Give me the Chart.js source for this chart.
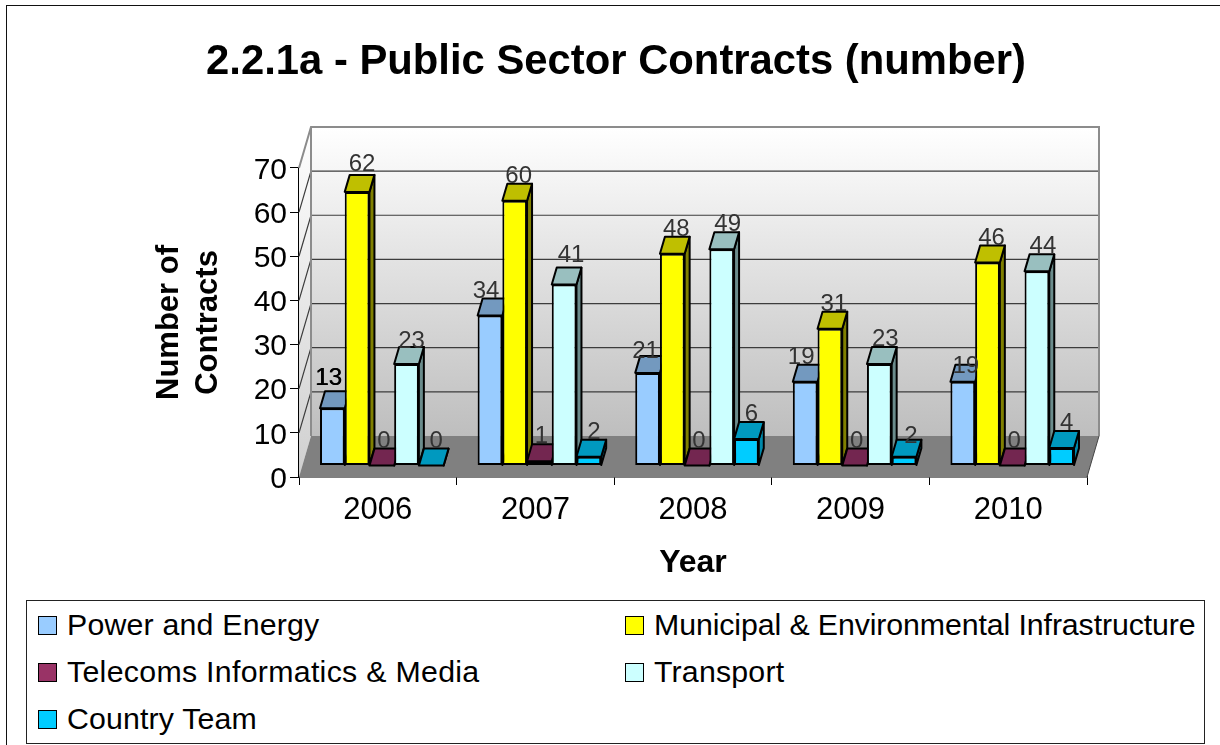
<!DOCTYPE html>
<html>
<head>
<meta charset="utf-8">
<title>2.2.1a - Public Sector Contracts (number)</title>
<script src="https://cdn.jsdelivr.net/npm/chart.js@4"></script>
<style>
    html, body { margin: 0; background: #fff; overflow: hidden; }
    body { position: relative; width: 1220px; height: 745px; font-family: "Liberation Sans", Arial, sans-serif; }
    #chartWrap { position: absolute; left: 0; top: 0; }
    #frame { position: absolute; left: 6px; top: 5px; width: 1300px; height: 800px; border: 1.5px solid #111; pointer-events: none; }
    #legend { position: absolute; left: 26px; top: 600px; width: 1177px; height: 142px; border: 1px solid #222; background: #fff; }
    #legend .item { position: absolute; display: flex; align-items: center; font-size: 30.3px; color: #000; white-space: nowrap; height: 34px; }
    #legend .box { width: 17px; height: 17px; border: 1.5px solid #000; margin-right: 10px; }
</style>
</head>
<body>
<div id="frame"></div>
<div id="chartWrap"><canvas id="contractsChart" width="1232" height="745"></canvas></div>
<div id="legend"></div>

<script>
// -------- DATA --------
const years = ["2006", "2007", "2008", "2009", "2010"];
const seriesNames = [
    "Power and Energy",
    "Municipal & Environmental Infrastructure",
    "Telecoms Informatics & Media",
    "Transport",
    "Country Team"
];
const powerEnergy = [13, 34, 21, 19, 19];
const municipal = [62, 60, 48, 31, 46];
const telecoms = [0, 1, 0, 0, 0];
const transport = [23, 41, 49, 23, 44];
const countryTeam = [0, 2, 6, 2, 4];
const yTicks = [0, 10, 20, 30, 40, 50, 60, 70];

// -------- COLOURS: front, top, side --------
const frontColors = ["#99CCFF", "#FFFF00", "#993366", "#CCFFFF", "#00CCFF"];
const topColors = ["#7399BF", "#BFBF00", "#732650", "#99BFBF", "#0099BF"];
const sideColors = ["#5C7A99", "#808000", "#5C1F3D", "#6B8C8C", "#0089AB"];

// -------- 3D LOOK --------
const wallDx = 12, wallDy = -41;   // front edge of floor to back wall
const barDx = 4, barDy = -11.4;    // bars stand part way into the floor
const faceDx = 5, faceDy = -17;    // depth of one bar

// value label offsets from the bar's front top corner
const labelDx = [-4, 4, 2, 6, 5];
const labelDy = 24.5;
const labelNudge = { "0-0": [0, 5], "0-2": [2, -3], "0-4": [7, -9], "1-0": [1, 3], "3-1": [1, 5], "3-0": [-1, -2], "4-3": [2, -4] };

// legend text widths differ a little from the font's own
const legendSpacing = [0.2, -0.1, 0.3, 0.2, 0.15];

function poly(ctx, pts, fill, stroke, lw) {
    ctx.beginPath();
    pts.forEach((p, i) => i ? ctx.lineTo(p[0], p[1]) : ctx.moveTo(p[0], p[1]));
    ctx.closePath();
    if (fill) { ctx.fillStyle = fill; ctx.fill(); }
    if (stroke) { ctx.strokeStyle = stroke; ctx.lineWidth = lw; ctx.lineJoin = "round"; ctx.stroke(); }
}

const walls = {
    id: "walls",
    beforeDatasetsDraw(chart) {
        const { ctx, chartArea: a, scales: { y } } = chart;
        const top = y.getPixelForValue(70), bot = y.getPixelForValue(0);

        const wallFill = ctx.createLinearGradient(0, top + wallDy, 0, bot + wallDy);
        wallFill.addColorStop(0, "#FFFFFF");
        wallFill.addColorStop(1, "#BEBEBE");
        poly(ctx, [[a.left + wallDx, top + wallDy], [a.right + wallDx, top + wallDy], [a.right + wallDx, bot + wallDy], [a.left + wallDx, bot + wallDy]], wallFill);

        const sideFill = ctx.createLinearGradient(0, top + wallDy, 0, bot);
        sideFill.addColorStop(0, "#FFFFFF");
        sideFill.addColorStop(1, "#CFCFCF");
        poly(ctx, [[a.left, top], [a.left + wallDx, top + wallDy], [a.left + wallDx, bot + wallDy], [a.left, bot]], sideFill);

        poly(ctx, [[a.left, bot], [a.right, bot], [a.right + wallDx, bot + wallDy], [a.left + wallDx, bot + wallDy]], "#808080");

        yTicks.forEach(v => {
            if (v === 0 || v === 70) return;
            const py = y.getPixelForValue(v);
            ctx.beginPath();
            ctx.moveTo(a.left, py);
            ctx.lineTo(a.left + wallDx, py + wallDy);
            ctx.lineTo(a.right + wallDx, py + wallDy);
            ctx.strokeStyle = "#3C3C3C";
            ctx.lineWidth = 1.2;
            ctx.stroke();
        });

        // wall outline
        ctx.beginPath();
        ctx.moveTo(a.left, top);
        ctx.lineTo(a.left + wallDx, top + wallDy);
        ctx.lineTo(a.right + wallDx, top + wallDy);
        ctx.lineTo(a.right + wallDx, bot + wallDy);
        ctx.moveTo(a.left + wallDx, top + wallDy);
        ctx.lineTo(a.left + wallDx, bot + wallDy);
        ctx.strokeStyle = "#8C8C8C";
        ctx.lineWidth = 2;
        ctx.stroke();

        ctx.beginPath();
        ctx.moveTo(a.right, bot);
        ctx.lineTo(a.right + wallDx, bot + wallDy);
        ctx.strokeStyle = "#444";
        ctx.lineWidth = 1;
        ctx.stroke();
    }
};

// bar fronts are the library's own bars, moved back onto the floor; the top
// and side faces go in just before them. First series first, so later bars
// overlap earlier ones like the 3D original.
const barFaces = {
    id: "barFaces",
    beforeDatasetsDraw(chart) {
        const ctx = chart.ctx;
        chart.data.datasets.forEach((ds, s) => {
            const meta = chart.getDatasetMeta(s);
            ctx.save();
            ctx.translate(barDx, barDy);
            meta.data.forEach(bar => {
                const l = bar.x - bar.width / 2, r = bar.x + bar.width / 2;
                const t = Math.min(bar.y, bar.base), b = bar.base;
                poly(ctx, [[r, t], [r + faceDx, t + faceDy], [r + faceDx, b + faceDy], [r, b]], sideColors[s], "#000", 2);
                poly(ctx, [[l, t], [r, t], [r + faceDx, t + faceDy], [l + faceDx, t + faceDy]], topColors[s], "#000", 2);
            });
            meta.controller.draw();
            ctx.restore();
        });
    },
    beforeDatasetDraw() {
        return false;
    }
};

const valueLabels = {
    id: "valueLabels",
    afterDatasetsDraw(chart) {
        const ctx = chart.ctx;
        ctx.save();
        ctx.font = "24px 'Liberation Sans', Arial, sans-serif";
        ctx.textAlign = "center";
        ctx.textBaseline = "middle";
        chart.data.datasets.forEach((ds, s) => {
            chart.getDatasetMeta(s).data.forEach((bar, i) => {
                const nudge = labelNudge[s + "-" + i] || [0, 0];
                const x = bar.x + barDx + labelDx[s] + nudge[0];
                const y = bar.y + barDy - labelDy - nudge[1];
                ctx.fillStyle = (s === 0 && i === 0) ? "#000" : "#333";
                ctx.fillText(ds.data[i], x, y);
                if (s === 0 && i === 0) ctx.fillText(ds.data[i], x + 0.6, y);
            });
        });
        ctx.restore();
    }
};

const ctx = document.getElementById("contractsChart").getContext("2d");
const seriesValues = [powerEnergy, municipal, telecoms, transport, countryTeam];

new Chart(ctx, {
    type: "bar",
    data: {
        labels: years,
        datasets: seriesNames.map((name, i) => ({
            label: name,
            data: seriesValues[i],
            backgroundColor: frontColors[i],
            borderColor: "#000",
            borderWidth: 2,
            borderSkipped: false,
            barPercentage: 1,
            categoryPercentage: 0.784
        }))
    },
    options: {
        responsive: false,
        animation: false,
        layout: { padding: { left: 145, right: 145, top: 0, bottom: 159 } },
        font: { family: "'Liberation Sans', Arial, sans-serif" },
        scales: {
            x: {
                afterFit: s => { s.height = 109; },
                grid: { drawOnChartArea: false, color: "#000", tickLength: 8 },
                border: { color: "#000", width: 1.5 },
                ticks: { color: "#000", font: { size: 31 }, padding: 7 },
                title: { display: true, text: "Year", color: "#000", font: { size: 32, weight: "bold" }, padding: { top: 0, bottom: 4 } }
            },
            y: {
                min: 0,
                max: 70,
                afterFit: s => { s.width = 154; },
                afterBuildTicks: s => { s.ticks = yTicks.map(v => ({ value: v })); },
                grid: { drawOnChartArea: false, color: "#000", tickLength: 9 },
                border: { color: "#000", width: 1.2 },
                ticks: { color: "#000", font: { size: 30 }, padding: 3, labelOffset: 2.5 },
                title: {
                    display: true,
                    text: ["Number of", "Contracts"],
                    color: "#000",
                    font: { size: 31, weight: "bold", lineHeight: 1.26 },
                    padding: { top: 5, bottom: 0 }
                }
            }
        },
        plugins: {
            legend: { display: false },
            tooltip: { enabled: false },
            title: {
                display: true,
                text: "2.2.1a - Public Sector Contracts (number)",
                color: "#000",
                font: { size: 41.8, weight: "bold", lineHeight: 1.2 },
                padding: { top: 37, bottom: 80.8 }
            }
        }
    },
    plugins: [walls, barFaces, valueLabels]
});

// -------- LEGEND --------
const legendEl = document.getElementById("legend");
seriesNames.forEach((name, i) => {
    const item = document.createElement("div");
    item.className = "item";
    item.style.left = (i % 2 ? 598 : 11) + "px";
    item.style.top = (7 + Math.floor(i / 2) * 47) + "px";
    item.style.letterSpacing = legendSpacing[i] + "px";
    const box = document.createElement("span");
    box.className = "box";
    box.style.background = frontColors[i];
    item.appendChild(box);
    item.appendChild(document.createTextNode(name));
    legendEl.appendChild(item);
});
</script>
</body>
</html>
